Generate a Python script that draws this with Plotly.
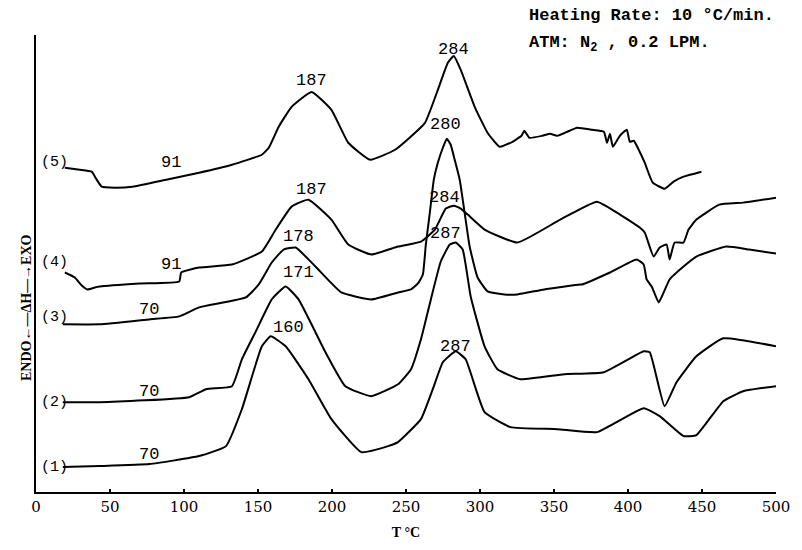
import plotly.graph_objects as go

# Temperature (°C) and DTA signal (arbitrary units)
t5 = [19.5, 29.6, 37.6, 41.0, 44.4, 53.1, 65.2, 88.0, 110.2, 132.4, 152.6, 157.3, 164.0, 172.7, 186.2,
      199.6, 211.0, 225.8, 242.6, 262.8, 271.5, 278.2, 282.3, 287.0, 296.4, 305.1, 313.2, 321.9, 328.0,
      330.0, 333.3, 342.1, 347.4, 352.2, 358.9, 365.6, 375.7, 383.7, 385.8, 387.8, 389.8, 394.5, 399.2,
      401.2, 403.9, 407.9, 411.3, 416.7, 424.7, 430.8, 437.5, 449.6]
s5 = [322, 320, 318, 310, 303, 302, 303, 310, 317, 325, 335, 342, 363, 383, 398,
      380, 347, 330, 340, 367, 400, 427, 434, 420, 383, 357, 343, 348, 354,
      359, 352, 354, 356, 354, 358, 362, 360, 358, 347, 356, 343, 354, 360,
      348, 349, 338, 327, 307, 301, 308, 313, 318]

t4 = [19.5, 26.2, 30.9, 34.9, 39.7, 43.0, 69.9, 96.8, 98.1, 110.2, 132.4, 152.6, 162.0, 172.7, 184.1,
      199.6, 211.0, 226.5, 244.6, 260.1, 269.5, 276.9, 282.3, 287.0, 291.7, 303.1, 325.3, 354.2, 379.0,
      392.5, 407.9, 411.3, 417.3, 421.4, 426.1, 428.1, 431.5, 437.5, 440.9, 446.2, 461.7, 477.8, 500.0]
s4 = [217, 212, 204, 200, 202, 203, 206, 208, 217, 222, 225, 238, 260, 283, 290,
      270, 245, 235, 243, 248, 260, 281, 284, 281, 275, 260, 247, 270, 288,
      277, 262, 257, 233, 242, 245, 230, 247, 247, 260, 270, 285, 287, 292]

t3 = [18.1, 43.0, 76.6, 96.8, 110.2, 141.8, 150.5, 159.3, 167.3, 175.4, 188.8, 206.3, 226.5, 244.6,
      253.4, 258.1, 261.4, 263.4, 266.1, 268.8, 271.5, 274.9, 277.6, 280.2, 282.9, 286.3, 289.6, 293.0,
      298.4, 305.1, 316.5, 325.3, 343.4, 367.6, 369.0, 387.8, 405.9, 410.6, 412.6, 416.0, 420.7, 424.1,
      428.1, 437.5, 446.2, 466.4, 481.9, 500.0]
s3 = [165, 165, 170, 173, 182, 192, 205, 227, 240, 242, 223, 197, 190, 197,
      200, 206, 215, 245, 277, 310, 327, 342, 351, 345, 330, 310, 277, 243,
      212, 198, 195, 195, 200, 205, 205, 217, 230, 225, 210, 203, 187, 197,
      210, 223, 233, 243, 240, 236]

t2 = [18.1, 43.0, 103.5, 114.9, 132.4, 139.1, 149.2, 159.3, 168.7, 177.4, 195.6, 209.0, 226.5, 244.6,
      253.4, 260.1, 266.8, 273.5, 279.6, 283.6, 288.3, 293.7, 303.1, 311.8, 327.3, 356.9, 383.7, 410.6,
      414.7, 424.7, 432.8, 446.2, 464.4, 500.0]
s2 = [87, 87, 92, 100, 103, 130, 160, 190, 203, 190, 137, 103, 93, 105,
      120, 150, 190, 228, 245, 247, 240, 193, 143, 120, 110, 115, 117, 138,
      137, 83, 107, 133, 151, 143]

t1 = [18.1, 43.0, 76.6, 110.2, 128.4, 139.1, 152.6, 158.6, 168.7, 184.1, 199.6, 219.8, 237.9, 244.6,
      260.1, 268.1, 274.9, 283.6, 290.3, 303.1, 320.6, 352.2, 379.0, 410.6, 421.4, 437.5, 446.2, 464.4,
      477.8, 500.0]
s1 = [22, 23, 25, 33, 43, 80, 143, 153, 143, 110, 70, 37, 43, 47,
      70, 100, 127, 138, 130, 77, 62, 60, 57, 81, 73, 53, 54, 88,
      98, 103]

curves = [(t1, s1), (t2, s2), (t3, s3), (t4, s4), (t5, s5)]

# Peak / onset labels: (text, T, signal)
peak_text = ["91", "187", "284", "280", "187", "284", "91", "178", "287", "70", "171", "70", "160", "287", "70"]
peak_t = [91.4, 186.2, 282.0, 277.0, 186.2, 276.0, 91.4, 177.4, 277.0, 76.6, 177.4, 76.6, 170.7, 283.6, 76.6]
peak_s = [327, 409, 440, 365, 300, 292, 225, 253, 256, 180, 217, 98, 162, 143, 35]

curve_names = ["(1)", "(2)", "(3)", "(4)", "(5)"]
curve_name_s = [22, 87, 172, 227, 327]

x_ticks = [0, 50, 100, 150, 200, 250, 300, 350, 400, 450, 500]

fig = go.Figure()
for t, s in curves:
    fig.add_trace(go.Scatter(x=t, y=s, mode="lines",
                             line=dict(color="black", width=2, shape="spline", smoothing=0.4),
                             showlegend=False, hoverinfo="skip"))

for txt, x, y in zip(peak_text, peak_t, peak_s):
    fig.add_annotation(x=x, y=y, text=txt, showarrow=False,
                       font=dict(family="Liberation Mono", size=17, color="black"))

for txt, y in zip(curve_names, curve_name_s):
    fig.add_annotation(x=0, y=y, text=txt, showarrow=False, xanchor="left", xshift=3,
                       font=dict(family="Liberation Mono", size=15, color="black"))

# header text (pixel-positioned via paper coords)
fig.add_annotation(xref="paper", yref="paper", x=(530 - 36) / 744, y=(493 - 15) / 458,
                   xanchor="left", yanchor="middle",
                   text="<b>Heating Rate: 10 °C/min.</b>", showarrow=False,
                   font=dict(family="Liberation Mono", size=17, color="black"))
fig.add_annotation(xref="paper", yref="paper", x=(530 - 36) / 744, y=(493 - 44) / 458,
                   xanchor="left", yanchor="middle",
                   text="<b>ATM: N<sub>2</sub> , 0.2 LPM.</b>", showarrow=False,
                   font=dict(family="Liberation Mono", size=17, color="black"))
fig.add_annotation(xref="paper", yref="paper", x=(17 - 36) / 744, y=(493 - 308) / 458, textangle=-90,
                   text="<b>ENDO←—ΔH—→EXO</b>", showarrow=False,
                   font=dict(family="Liberation Serif", size=14, color="black"))

fig.update_layout(
    width=802, height=550,
    margin=dict(l=36, r=22, t=35, b=57),
    paper_bgcolor="white", plot_bgcolor="white",
    xaxis=dict(range=[0, 500], tickvals=x_ticks, showgrid=False, zeroline=False,
               showline=True, linecolor="black", linewidth=2,
               ticks="inside", ticklen=3, tickwidth=2, tickcolor="black",
               tickfont=dict(family="DejaVu Serif", size=15, color="black"),
               title=dict(text="<b>T °C</b>", standoff=12,
                          font=dict(family="Liberation Serif", size=14, color="black"))),
    yaxis=dict(range=[-3, 455], showgrid=False, zeroline=False, showticklabels=False,
               showline=True, linecolor="black", linewidth=2, ticks=""),
)

fig.write_html("out.html")
